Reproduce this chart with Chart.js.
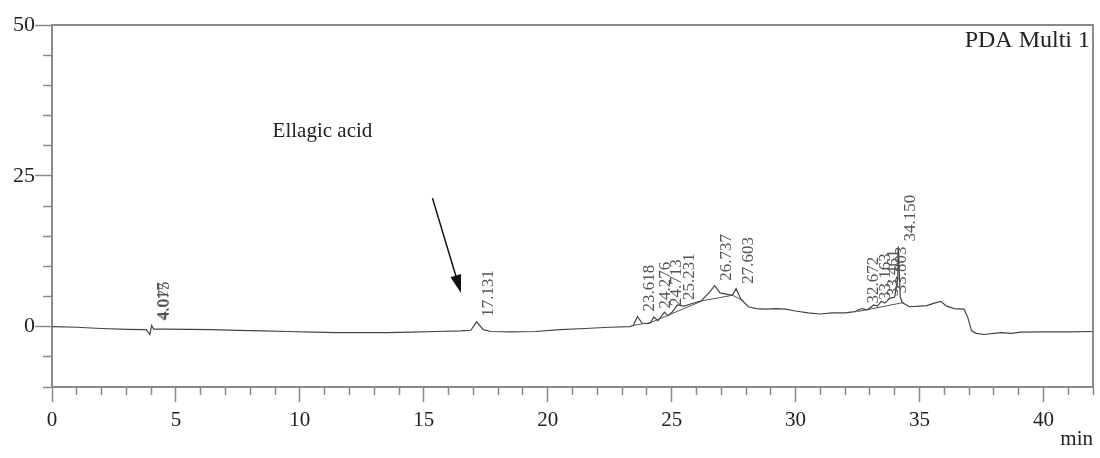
<!DOCTYPE html>
<html>
<head>
<meta charset="utf-8">
<script src="https://cdn.jsdelivr.net/npm/chart.js@4"></script>
<style>
html, body { margin: 0; padding: 0; background: #fff; }
#wrap { width: 1100px; height: 458px; }
</style>
</head>
<body>
<div id="wrap"><canvas id="cromatograma"></canvas></div>
<script>
// DATOS
const tiempos = [0, 1, 2, 3, 3.8, 3.95, 4.02, 4.1, 4.5, 5.5, 6.5, 7.5, 8.5, 9.5, 10.5, 11.5, 12.5, 13.5, 14.5, 15.5, 16.5, 16.9,
    17.13, 17.4, 17.7, 18.5, 19.5, 20.5, 21.5, 22.5, 23.3, 23.45, 23.62, 23.8, 24.0, 24.15, 24.28, 24.45, 24.71, 24.85, 25.0,
    25.23, 25.5, 25.8, 26.2, 26.5, 26.74, 26.95, 27.2, 27.45, 27.6, 27.8, 28.1, 28.4, 28.8, 29.2, 29.6, 30.0, 30.5, 31.0, 31.5,
    32.0, 32.4, 32.67, 32.9, 33.16, 33.3, 33.46, 33.6, 33.8, 34.0, 34.12, 34.15, 34.22, 34.3, 34.6, 35.0, 35.3, 35.6, 35.85,
    36.1, 36.4, 36.8, 36.95, 37.1, 37.3, 37.6, 38.0, 38.3, 38.7, 39.1, 40, 41, 42];
const senal = [0, -0.1, -0.3, -0.45, -0.5, -1.3, 0.2, -0.4, -0.4, -0.45, -0.5, -0.6, -0.7, -0.8, -0.9, -1.0, -1.0, -1.0, -0.9, -0.8, -0.7, -0.6,
    0.8, -0.5, -0.8, -0.85, -0.8, -0.5, -0.3, -0.1, 0.0, 0.2, 1.7, 0.6, 0.5, 0.7, 1.6, 1.0, 2.4, 1.8, 2.3,
    3.6, 3.4, 3.8, 4.3, 5.6, 6.8, 5.6, 5.4, 5.2, 6.3, 4.5, 3.3, 3.0, 2.9, 3.0, 2.9, 2.6, 2.3, 2.1, 2.3,
    2.3, 2.5, 3.0, 2.8, 3.6, 3.4, 4.2, 3.9, 4.7, 4.9, 8, 13.3, 5, 4.0, 3.3, 3.4, 3.5, 3.9, 4.2,
    3.4, 3.0, 2.9, 1.5, -0.7, -1.1, -1.3, -1.1, -1.0, -1.1, -0.9, -0.85, -0.85, -0.8];

// lineas base de integracion (null = corte)
const baseT = [23.45, 23.85, 23.9, 24.05, 26.25, 27.45, 27.9, 27.95, 32.5, 34.35];
const baseV = [0.2, 0.5, null, 0.5, 4.3, 5.2, 4.3, null, 2.5, 4.0];

const picosTexto = ['4.017', '4.075', '17.131', '23.618', '24.276', '24.713', '25.231', '26.737', '27.603',
    '32.672', '33.163', '33.461', '33.803', '34.150'];
const picosT = [4.017, 4.075, 17.131, 23.618, 24.276, 24.713, 25.231, 26.737, 27.603, 32.672, 33.163, 33.461, 33.803, 34.150];
const picosAlto = [0.2, 0.3, 0.8, 1.7, 2.2, 2.6, 3.6, 6.8, 6.3, 3.0, 3.6, 4.2, 4.7, 13.3];

const ejeX = { min: 0, max: 42, paso: 1, mayor: 5 };
const ejeY = { min: -10, max: 50, paso: 5, mayor: 25 };
// ----------------

const GRIS = '#8a8a8a';
const FUENTE = 'Liberation Serif, Times New Roman, serif';

const puntosSenal = tiempos.map((t, i) => ({ x: t, y: senal[i] }));
const puntosBase = baseT.map((t, i) => ({ x: t, y: baseV[i] }));

const marco = {
    id: 'marco',
    afterDraw(chart) {
        const { ctx, chartArea: a } = chart;
        ctx.save();
        ctx.strokeStyle = GRIS;
        ctx.lineWidth = 2;
        ctx.beginPath();
        ctx.moveTo(a.left, a.top);
        ctx.lineTo(a.right, a.top);
        ctx.lineTo(a.right, a.bottom);
        ctx.stroke();
        ctx.restore();
    }
};

const anotaciones = {
    id: 'anotaciones',
    afterDatasetsDraw(chart) {
        const { ctx, scales: { x, y }, chartArea: a } = chart;
        ctx.save();
        // etiquetas de picos
        ctx.fillStyle = '#555';
        ctx.font = '17px ' + FUENTE;
        ctx.textAlign = 'left';
        ctx.textBaseline = 'middle';
        picosTexto.forEach((txt, i) => {
            const px = x.getPixelForValue(picosT[i]) + 12;
            const py = y.getPixelForValue(picosAlto[i]) - 5;
            ctx.save();
            ctx.translate(px, py);
            ctx.rotate(-Math.PI / 2);
            ctx.fillText(txt, 0, 0);
            ctx.restore();
        });
        // leyenda
        ctx.fillStyle = '#222';
        ctx.font = '24px ' + FUENTE;
        ctx.textAlign = 'right';
        ctx.textBaseline = 'alphabetic';
        ctx.fillText('PDA Multi 1', a.right - 3, a.top + 22);
        // Ellagic acid + flecha
        ctx.font = '21px ' + FUENTE;
        ctx.textAlign = 'left';
        ctx.fillText('Ellagic acid', x.getPixelForValue(8.9), y.getPixelForValue(31.5));
        const x1 = x.getPixelForValue(15.35), y1 = y.getPixelForValue(21.3);
        const x2 = x.getPixelForValue(16.5), y2 = y.getPixelForValue(5.6);
        const ang = Math.atan2(y2 - y1, x2 - x1);
        ctx.strokeStyle = '#111';
        ctx.lineWidth = 1.5;
        ctx.beginPath();
        ctx.moveTo(x1, y1);
        ctx.lineTo(x2 - 14 * Math.cos(ang), y2 - 14 * Math.sin(ang));
        ctx.stroke();
        ctx.fillStyle = '#111';
        ctx.beginPath();
        ctx.moveTo(x2, y2);
        ctx.lineTo(x2 - 18 * Math.cos(ang) + 5.5 * Math.sin(ang), y2 - 18 * Math.sin(ang) - 5.5 * Math.cos(ang));
        ctx.lineTo(x2 - 18 * Math.cos(ang) - 5.5 * Math.sin(ang), y2 - 18 * Math.sin(ang) + 5.5 * Math.cos(ang));
        ctx.closePath();
        ctx.fill();
        ctx.restore();
    }
};

const config = {
    type: 'line',
    data: {
        datasets: [{
            label: 'PDA Multi 1',
            data: puntosSenal,
            borderColor: '#444',
            borderWidth: 1.2,
            pointRadius: 0,
            tension: 0
        }, {
            label: 'base',
            data: puntosBase,
            borderColor: '#555',
            borderWidth: 1,
            pointRadius: 0,
            spanGaps: false
        }]
    },
    options: {
        responsive: true,
        maintainAspectRatio: false,
        animation: false,
        layout: { padding: { top: 25, right: 7, left: 0, bottom: 0 } },
        plugins: { legend: { display: false }, tooltip: { enabled: false } },
        scales: {
            x: {
                type: 'linear',
                min: ejeX.min,
                max: ejeX.max,
                afterFit: s => { s.height = 71; },
                ticks: {
                    stepSize: ejeX.paso,
                    autoSkip: false,
                    maxRotation: 0,
                    padding: 6,
                    color: '#222',
                    font: { family: FUENTE, size: 21 },
                    callback: v => (v % ejeX.mayor === 0 && v < ejeX.max) ? v : ''
                },
                grid: {
                    drawOnChartArea: false,
                    tickLength: 15,
                    tickColor: GRIS,
                    tickWidth: 1.5,
                    tickBorderDash: c => (c.tick && c.tick.value % ejeX.mayor !== 0) ? [7, 40] : []
                },
                border: { color: GRIS, width: 2 },
                title: {
                    display: true,
                    text: 'min',
                    align: 'end',
                    color: '#222',
                    font: { family: FUENTE, size: 21 },
                    padding: { top: 0, bottom: 6 }
                }
            },
            y: {
                min: ejeY.min,
                max: ejeY.max,
                afterFit: s => { s.width = 52; },
                ticks: {
                    stepSize: ejeY.paso,
                    autoSkip: false,
                    padding: 0,
                    color: '#222',
                    font: { family: FUENTE, size: 22 },
                    callback: v => (v % ejeY.mayor === 0) ? v : ''
                },
                grid: {
                    drawOnChartArea: false,
                    tickLength: 17,
                    tickColor: GRIS,
                    tickWidth: 1.5,
                    // la raya empieza en el extremo exterior: hueco primero
                    tickBorderDash: c => (c.tick && c.tick.value % ejeY.mayor !== 0) ? [0, 8, 9, 40] : []
                },
                border: { color: GRIS, width: 2 }
            }
        }
    },
    plugins: [marco, anotaciones]
};

const lienzo = document.getElementById('cromatograma');
const grafico = new Chart(lienzo, config);
</script>
</body>
</html>
